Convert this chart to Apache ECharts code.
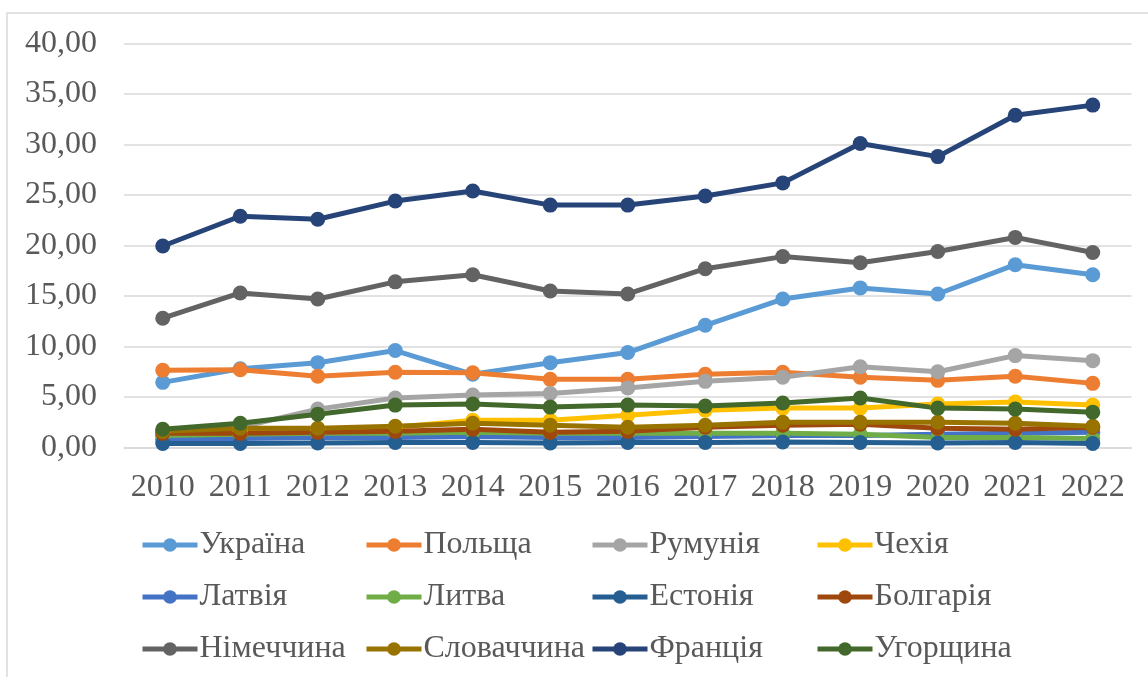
<!DOCTYPE html>
<html>
<head>
<meta charset="utf-8">
<script src="https://cdn.jsdelivr.net/npm/echarts@6/dist/echarts.min.js"></script>
<style>
    html, body {margin: 0; padding: 0; background: #fff;}
    #chart {width: 1148px; height: 677px;}
</style>
</head>
<body>
<div id="chart"></div>
<script>
    // roky
    var years = ['2010', '2011', '2012', '2013', '2014', '2015', '2016', '2017', '2018', '2019', '2020', '2021', '2022'];

    var ukraine   = [6.45, 7.80, 8.40, 9.60, 7.25, 8.40, 9.40, 12.10, 14.70, 15.80, 15.20, 18.10, 17.10];
    var poland    = [7.65, 7.70, 7.05, 7.45, 7.40, 6.75, 6.75, 7.25, 7.45, 6.95, 6.65, 7.05, 6.35];
    var romania   = [1.10, 2.00, 3.80, 4.90, 5.20, 5.35, 5.90, 6.55, 6.95, 8.00, 7.50, 9.10, 8.60];
    var czechia   = [1.50, 1.60, 1.80, 2.00, 2.70, 2.70, 3.20, 3.70, 3.90, 3.90, 4.30, 4.50, 4.20];
    var latvia    = [0.80, 0.90, 1.00, 1.00, 1.10, 1.00, 1.00, 1.10, 1.20, 1.20, 1.30, 1.40, 1.50];
    var lithuania = [1.20, 1.30, 1.40, 1.40, 1.50, 1.40, 1.40, 1.40, 1.40, 1.30, 1.00, 1.00, 0.90];
    var estonia   = [0.40, 0.40, 0.45, 0.50, 0.50, 0.45, 0.50, 0.50, 0.55, 0.50, 0.45, 0.50, 0.40];
    var bulgaria  = [1.40, 1.40, 1.50, 1.60, 1.80, 1.50, 1.60, 2.00, 2.20, 2.30, 1.90, 1.80, 2.00];
    var germany   = [12.80, 15.30, 14.70, 16.40, 17.10, 15.50, 15.20, 17.70, 18.90, 18.30, 19.40, 20.80, 19.30];
    var slovakia  = [1.60, 1.90, 1.90, 2.10, 2.40, 2.20, 2.00, 2.20, 2.50, 2.50, 2.50, 2.40, 2.10];
    var france    = [19.95, 22.90, 22.60, 24.40, 25.40, 24.00, 24.00, 24.90, 26.20, 30.10, 28.80, 32.90, 33.90];
    var hungary   = [1.80, 2.40, 3.30, 4.20, 4.30, 4.00, 4.20, 4.10, 4.40, 4.90, 3.90, 3.80, 3.50];

    var names  = ['Україна', 'Польща', 'Румунія', 'Чехія', 'Латвія', 'Литва', 'Естонія', 'Болгарія', 'Німеччина', 'Словаччина', 'Франція', 'Угорщина'];
    var values = [ukraine, poland, romania, czechia, latvia, lithuania, estonia, bulgaria, germany, slovakia, france, hungary];
    var colors = ['#5B9BD5', '#ED7D31', '#A5A5A5', '#FFC000', '#4472C4', '#70AD47', '#255E91', '#9E480E', '#636363', '#997300', '#264478', '#43682B'];

    var font = '"Liberation Serif", "Times New Roman", serif';
    var textColor = '#595959';

    var series = [];
    for (var i = 0; i < names.length; i++) {
        series.push({
            name: names[i],
            type: 'line',
            data: values[i],
            symbol: 'circle',
            symbolSize: 15,
            color: colors[i],
            lineStyle: {width: 5, color: colors[i]},
            itemStyle: {color: colors[i]},
            animation: false
        });
    }

    // legenda - 4 stovpci
    var legendCols = [140, 364, 590, 815];
    var legends = [];
    for (var c = 0; c < 4; c++) {
        legends.push({
            orient: 'vertical',
            left: legendCols[c],
            top: 529,
            itemWidth: 55,
            itemHeight: 17,
            itemGap: 20,
            padding: 0,
            selectedMode: false,
            lineStyle: {width: 5},
            data: [names[c], names[c + 4], names[c + 8]],
            textStyle: {
                fontFamily: font,
                fontSize: 32,
                lineHeight: 32,
                color: textColor,
                padding: [0, 0, 0, -3]
            }
        });
    }

    var myChart = echarts.init(document.getElementById('chart'));
    myChart.setOption({
        backgroundColor: '#fff',
        color: colors,
        graphic: [{
            type: 'rect',
            shape: {x: 7, y: 13, width: 1160, height: 700},
            style: {fill: '#fff', stroke: '#d9d9d9', lineWidth: 1.5},
            z: -10,
            silent: true
        }],
        grid: {
            left: 124,
            right: 16.5,
            top: 43.5,
            bottom: 229.5
        },
        legend: legends,
        xAxis: {
            type: 'category',
            data: years,
            boundaryGap: true,
            axisLine: {show: true, lineStyle: {color: '#d9d9d9', width: 1.5}},
            axisTick: {show: false},
            axisLabel: {
                interval: 0,
                margin: 24,
                fontFamily: font,
                fontSize: 32,
                color: textColor
            }
        },
        yAxis: {
            type: 'value',
            min: 0,
            max: 40,
            interval: 5,
            axisLine: {show: false},
            axisTick: {show: false},
            splitLine: {lineStyle: {color: '#d9d9d9', width: 1.5}},
            axisLabel: {
                margin: 27,
                fontFamily: font,
                fontSize: 32,
                color: textColor,
                formatter: function (v) {
                    return v.toFixed(2).replace('.', ',');
                }
            }
        },
        series: series
    });
</script>
</body>
</html>
